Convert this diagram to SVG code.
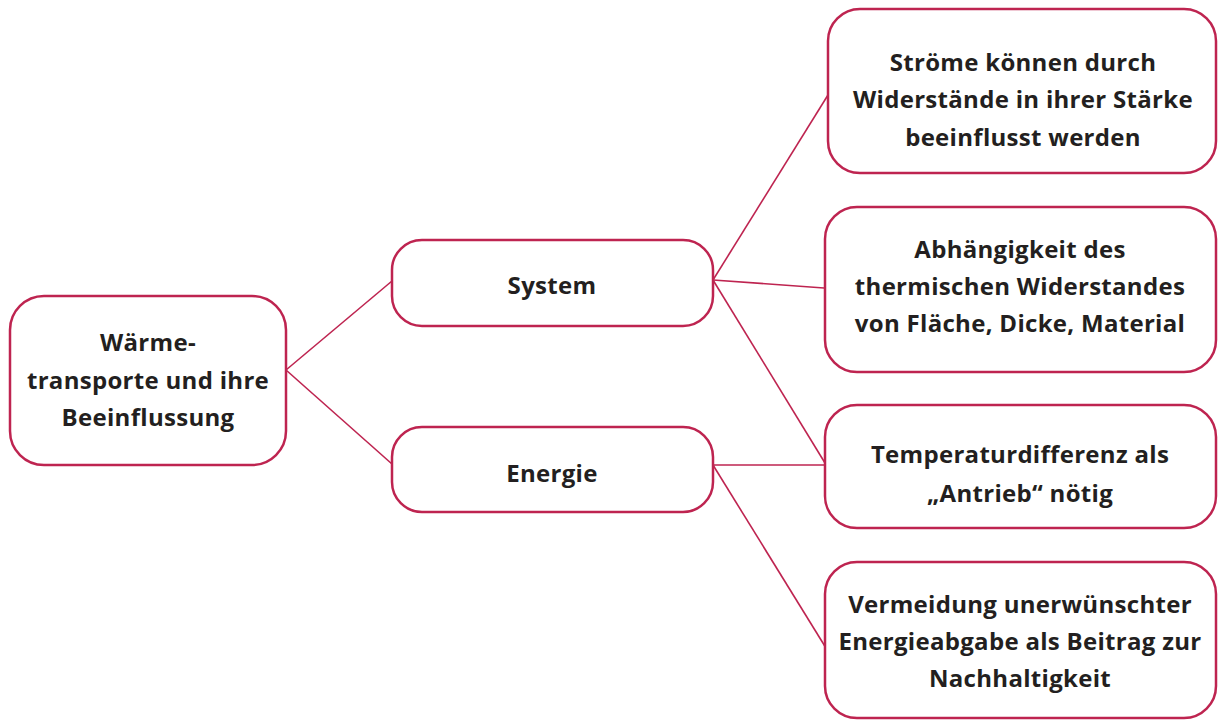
<svg xmlns="http://www.w3.org/2000/svg" width="1218" height="720" viewBox="0 0 1218 720">
<style>
.box{fill:#fff;stroke:#be2450;stroke-width:2.5}
.ln{stroke:#be2450;stroke-width:1.6;fill:none}
text{font-family:"Open Sans","Noto Sans","DejaVu Sans",sans-serif;font-weight:700;font-size:24px;letter-spacing:0.3px;fill:#231f20;text-anchor:middle}
</style>
<rect width="1218" height="720" fill="#fff"/>
<g id="connectors">
<line class="ln" x1="286" y1="370" x2="392" y2="281"/>
<line class="ln" x1="286" y1="370" x2="392" y2="464"/>
<line class="ln" x1="713" y1="280" x2="828" y2="95"/>
<line class="ln" x1="713" y1="280" x2="824" y2="288"/>
<line class="ln" x1="713" y1="280" x2="825" y2="463"/>
<line class="ln" x1="713" y1="465" x2="824" y2="465"/>
<line class="ln" x1="713" y1="465" x2="826" y2="648"/>
</g>
<g id="root">
<rect class="box" x="10" y="296" width="276" height="169" rx="34"/>
<text x="148" y="351">Wärme-</text>
<text x="148" y="389">transporte und ihre</text>
<text x="148" y="426">Beeinflussung</text>
</g>
<g id="system">
<rect class="box" x="392" y="240" width="321" height="86" rx="30"/>
<text x="552" y="294">System</text>
</g>
<g id="energie">
<rect class="box" x="392" y="427" width="321" height="85" rx="30"/>
<text x="552" y="482">Energie</text>
</g>
<g id="stroeme">
<rect class="box" x="828" y="9" width="388" height="164" rx="32"/>
<text x="1023" y="71">Ströme können durch</text>
<text x="1023" y="108">Widerstände in ihrer Stärke</text>
<text x="1023" y="146">beeinflusst werden</text>
</g>
<g id="abhaengigkeit">
<rect class="box" x="825" y="207" width="391" height="165" rx="32"/>
<text x="1020" y="258">Abhängigkeit des</text>
<text x="1020" y="295">thermischen Widerstandes</text>
<text x="1020" y="332">von Fläche, Dicke, Material</text>
</g>
<g id="temperatur">
<rect class="box" x="825" y="405" width="391" height="123" rx="32"/>
<text x="1020" y="463">Temperaturdifferenz als</text>
<text x="1020" y="502">„Antrieb“ nötig</text>
</g>
<g id="vermeidung">
<rect class="box" x="825" y="562" width="391" height="156" rx="32"/>
<text x="1020" y="613">Vermeidung unerwünschter</text>
<text x="1020" y="650">Energieabgabe als Beitrag zur</text>
<text x="1020" y="687">Nachhaltigkeit</text>
</g>
</svg>
